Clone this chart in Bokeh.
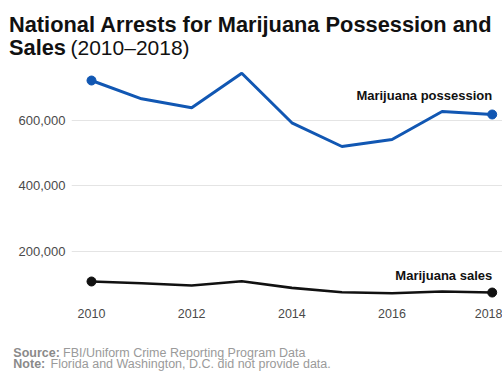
from bokeh.plotting import figure
from bokeh.layouts import column
from bokeh.models import Label, FixedTicker, NumeralTickFormatter, Range1d
from bokeh.embed import file_html
from bokeh.resources import INLINE

# ---- data ----
years = [2010, 2011, 2012, 2013, 2014, 2015, 2016, 2017, 2018]
possession = [722400, 666400, 638900, 744800, 593000, 520400, 541900, 627500, 618400]
sales = [107300, 102100, 95000, 108100, 87800, 74500, 71400, 76600, 73500]
y_ticks = [200000, 400000, 600000]
x_ticks = [2010, 2012, 2014, 2016, 2018]
title_line1 = "National Arrests for Marijuana Possession and"
title_line2_bold = "Sales"
title_line2_rest = "(2010\u20132018)"
series_names = ["Marijuana possession", "Marijuana sales"]
source_label = "Source:"
source_text = "FBI/Uniform Crime Reporting Program Data"
note_label = "Note:"
note_text = "Florida and Washington, D.C. did not provide data."

BLUE = "#1157b3"
BLACK = "#111111"
FONT = "Liberation Sans"
W = 502


def text_panel(top, bottom):
    """A blank svg figure whose data units equal page pixels (y downward)."""
    f = figure(frame_width=W, frame_height=bottom - top,
               min_border_left=0, min_border_right=0, min_border_top=0, min_border_bottom=0,
               x_range=Range1d(0, W), y_range=Range1d(bottom, top),
               x_axis_location=None, y_axis_location=None, frame_align=False,
               output_backend="svg", toolbar_location=None, tools="")
    f.grid.visible = False
    f.outline_line_color = None
    f.background_fill_color = "white"
    f.border_fill_color = "white"
    return f


def lab(x, y, text, size, style, color):
    return Label(x=x, y=y, text=text, text_align="left", text_baseline="alphabetic",
                 text_font=FONT, text_font_size=size, text_font_style=style,
                 text_color=color)


# ---- title panel ----
head = text_panel(0, 66)
head.add_layout(lab(8.5, 23.5, title_line1, "21.8px", "bold", BLACK))
head.add_layout(lab(8.5, 47, title_line2_bold, "21.8px", "bold", BLACK))
head.add_layout(lab(70, 47, title_line2_rest, "21px", "normal", BLACK))

# ---- main chart ----
p = figure(
    frame_width=431, frame_height=236,
    min_border_left=71, min_border_right=0, min_border_top=0, min_border_bottom=28,
    x_range=Range1d(2009.6007, 2018.2056), y_range=Range1d(43000, 765300),
    frame_align=False,
    output_backend="svg", toolbar_location=None, tools="",
)
p.outline_line_color = None
p.background_fill_color = "white"
p.border_fill_color = "white"

p.xaxis.ticker = FixedTicker(ticks=x_ticks)
p.xaxis.axis_line_color = None
p.xaxis.major_tick_line_color = None
p.xaxis.minor_tick_line_color = None
p.xaxis.major_tick_out = 0
p.xaxis.minor_tick_out = 0
p.xaxis.major_label_standoff = 6
p.xaxis.major_label_text_font = FONT
p.xaxis.major_label_text_font_size = "12.5px"
p.xaxis.major_label_text_color = "#4a4a4a"

p.yaxis.ticker = FixedTicker(ticks=y_ticks)
p.yaxis.formatter = NumeralTickFormatter(format="0,0")
p.yaxis.axis_line_color = None
p.yaxis.major_tick_line_color = None
p.yaxis.minor_tick_line_color = None
p.yaxis.major_tick_out = 0
p.yaxis.minor_tick_out = 0
p.yaxis.major_label_standoff = 6
p.yaxis.major_label_text_font = FONT
p.yaxis.major_label_text_font_size = "13px"
p.yaxis.major_label_text_color = "#4a4a4a"

p.xgrid.grid_line_color = None
p.ygrid.ticker = FixedTicker(ticks=y_ticks)
p.ygrid.grid_line_color = "#e4e4e4"
p.ygrid.grid_line_width = 1

p.line(years, possession, line_color=BLUE, line_width=3)
p.scatter([years[0], years[-1]], [possession[0], possession[-1]], size=9,
          fill_color=BLUE, line_color=BLUE)
p.line(years, sales, line_color=BLACK, line_width=2.6)
p.scatter([years[0], years[-1]], [sales[0], sales[-1]], size=9,
          fill_color=BLACK, line_color=BLACK)

p.add_layout(Label(x=years[-1], y=possession[-1], text=series_names[0],
                   y_offset=19, text_align="right", text_baseline="middle",
                   text_font=FONT, text_font_style="bold", text_font_size="13px",
                   text_color=BLACK))
p.add_layout(Label(x=years[-1], y=sales[-1], text=series_names[1],
                   y_offset=17, text_align="right", text_baseline="middle",
                   text_font=FONT, text_font_style="bold", text_font_size="13px",
                   text_color=BLACK))

# ---- footer panel ----
foot = text_panel(330, 374)
foot.add_layout(lab(12.8, 352.7, source_label, "12.5px", "bold", "#8a8a8a"))
foot.add_layout(lab(62.5, 352.7, source_text, "12.5px", "normal", "#9a9a9a"))
foot.add_layout(lab(12.8, 363.9, note_label, "12.5px", "bold", "#8a8a8a"))
foot.add_layout(lab(50.0, 363.9, note_text, "12.5px", "normal", "#9a9a9a"))

layout = column(head, p, foot, spacing=0)
open("out.html", "w").write(file_html(layout, INLINE))
